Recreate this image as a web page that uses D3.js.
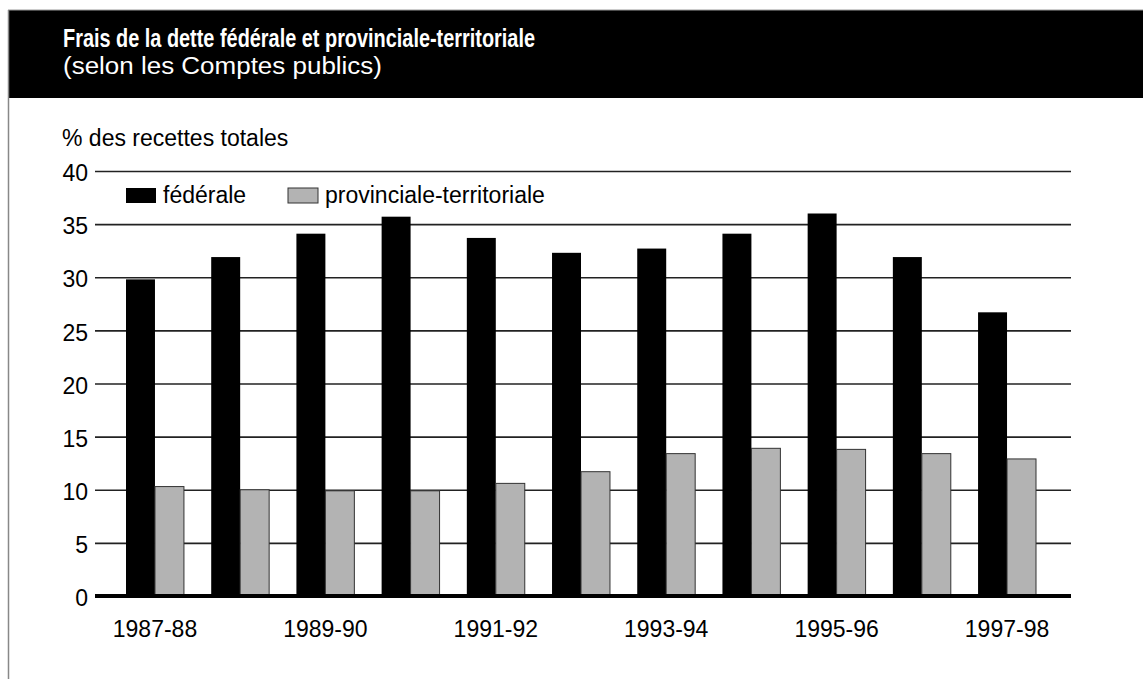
<!DOCTYPE html>
<html>
<head>
<meta charset="utf-8">
<script src="https://cdn.jsdelivr.net/npm/d3@7"></script>
<style>
  html, body { margin: 0; padding: 0; background: #fff; }
  svg { display: block; }
  .sans { font-family: "Liberation Sans", Arial, Helvetica, sans-serif; }
</style>
</head>
<body>
<svg id="chart" width="1143" height="679"></svg>
<script>
// ---- Data ----
const categories = ["1987-88","1988-89","1989-90","1990-91","1991-92","1992-93","1993-94","1994-95","1995-96","1996-97","1997-98"];
const seriesNames = ["fédérale", "provinciale-territoriale"];
const federal = [29.8, 31.9, 34.1, 35.7, 33.7, 32.3, 32.7, 34.1, 36.0, 31.9, 26.7];
const provincial = [10.3, 10.0, 9.9, 9.9, 10.6, 11.7, 13.4, 13.9, 13.8, 13.4, 12.9];
const yTicks = [0, 5, 10, 15, 20, 25, 30, 35, 40];
const xTickLabels = ["1987-88","1989-90","1991-92","1993-94","1995-96","1997-98"];
const titleText = "Frais de la dette fédérale et provinciale-territoriale";
const subtitleText = "(selon les Comptes publics)";
const yAxisTitle = "% des recettes totales";

const svg = d3.select("#chart");
const FS = 23;

// ---- Header ----
svg.append("rect").attr("x", 8).attr("y", 10).attr("width", 1135).attr("height", 88).attr("fill", "#000");
svg.append("line").attr("x1", 8).attr("x2", 1143).attr("y1", 10).attr("y2", 10).attr("stroke", "#999").attr("stroke-width", 1);
svg.append("line").attr("x1", 8.5).attr("x2", 8.5).attr("y1", 10).attr("y2", 679).attr("stroke", "#888").attr("stroke-width", 1.5);

svg.append("text").attr("class", "sans").attr("x", 63).attr("y", 47)
  .attr("fill", "#fff").attr("font-size", 26).attr("font-weight", "bold")
  .attr("textLength", 472).attr("lengthAdjust", "spacingAndGlyphs").text(titleText);
svg.append("text").attr("class", "sans").attr("x", 63).attr("y", 74)
  .attr("fill", "#fff").attr("font-size", 23)
  .attr("textLength", 319).attr("lengthAdjust", "spacingAndGlyphs").text(subtitleText);

// ---- Scales ----
const x = d3.scaleBand().domain(categories).range([126, 1036]).paddingInner(0.32).paddingOuter(0);
const xs = d3.scaleBand().domain(seriesNames).range([0, x.bandwidth()]).padding(0);
const y = d3.scaleLinear().domain([0, 40]).range([596, 171]);

const plotLeft = 95, plotRight = 1071;

// ---- Y title ----
svg.append("text").attr("class", "sans").attr("x", 62).attr("y", 146)
  .attr("font-size", FS).attr("fill", "#000").text(yAxisTitle);

// ---- Grid + Y axis ----
const yAxis = d3.axisLeft(y).tickValues(yTicks).tickSize(-(plotRight - plotLeft)).tickPadding(7).tickFormat(d3.format("d"));
const gy = svg.append("g").attr("transform", `translate(${plotLeft},0)`).call(yAxis);
gy.select(".domain").remove();
gy.selectAll(".tick line").attr("stroke", "#222").attr("stroke-width", 1.6);
gy.selectAll(".tick text").attr("class", "sans").attr("font-size", FS).attr("fill", "#000").attr("dy", "0.42em");
gy.selectAll(".tick").filter(d => d === 0).select("line").remove();

// ---- Bars ----
const data = categories.map((c, i) => ({ cat: c, vals: [federal[i], provincial[i]] }));
const groups = svg.append("g").selectAll("g").data(data).join("g")
  .attr("transform", d => `translate(${x(d.cat)},0)`);
groups.selectAll("rect").data(d => d.vals.map((v, j) => ({ key: seriesNames[j], v }))).join("rect")
  .attr("x", d => xs(d.key))
  .attr("width", xs.bandwidth())
  .attr("y", d => y(d.v))
  .attr("height", d => y(0) - y(d.v))
  .attr("fill", d => d.key === seriesNames[0] ? "#000" : "#b3b3b3")
  .attr("stroke", d => d.key === seriesNames[0] ? "none" : "#333")
  .attr("stroke-width", 1);

// ---- Baseline ----
svg.append("line").attr("x1", plotLeft).attr("x2", plotRight).attr("y1", y(0)).attr("y2", y(0))
  .attr("stroke", "#000").attr("stroke-width", 4);

// ---- X axis ----
const xAxis = d3.axisBottom(x).tickValues(xTickLabels).tickSize(0).tickPadding(0);
const gx = svg.append("g").attr("transform", `translate(0,${y(0)})`).call(xAxis);
gx.select(".domain").remove();
gx.selectAll(".tick text").attr("class", "sans").attr("font-size", FS).attr("fill", "#000")
  .attr("dy", null).attr("y", 41);

// ---- Legend ----
const legendX = [126, 288];
const lg = svg.append("g").selectAll("g").data(seriesNames).join("g")
  .attr("transform", (d, i) => `translate(${legendX[i]},188)`);
lg.append("rect").attr("width", 30).attr("height", 15)
  .attr("fill", (d, i) => i === 0 ? "#000" : "#b3b3b3")
  .attr("stroke", (d, i) => i === 0 ? "none" : "#333").attr("stroke-width", 1);
lg.append("text").attr("class", "sans").attr("x", 37).attr("y", 15).attr("font-size", FS).attr("fill", "#000").text(d => d);
</script>
</body>
</html>
